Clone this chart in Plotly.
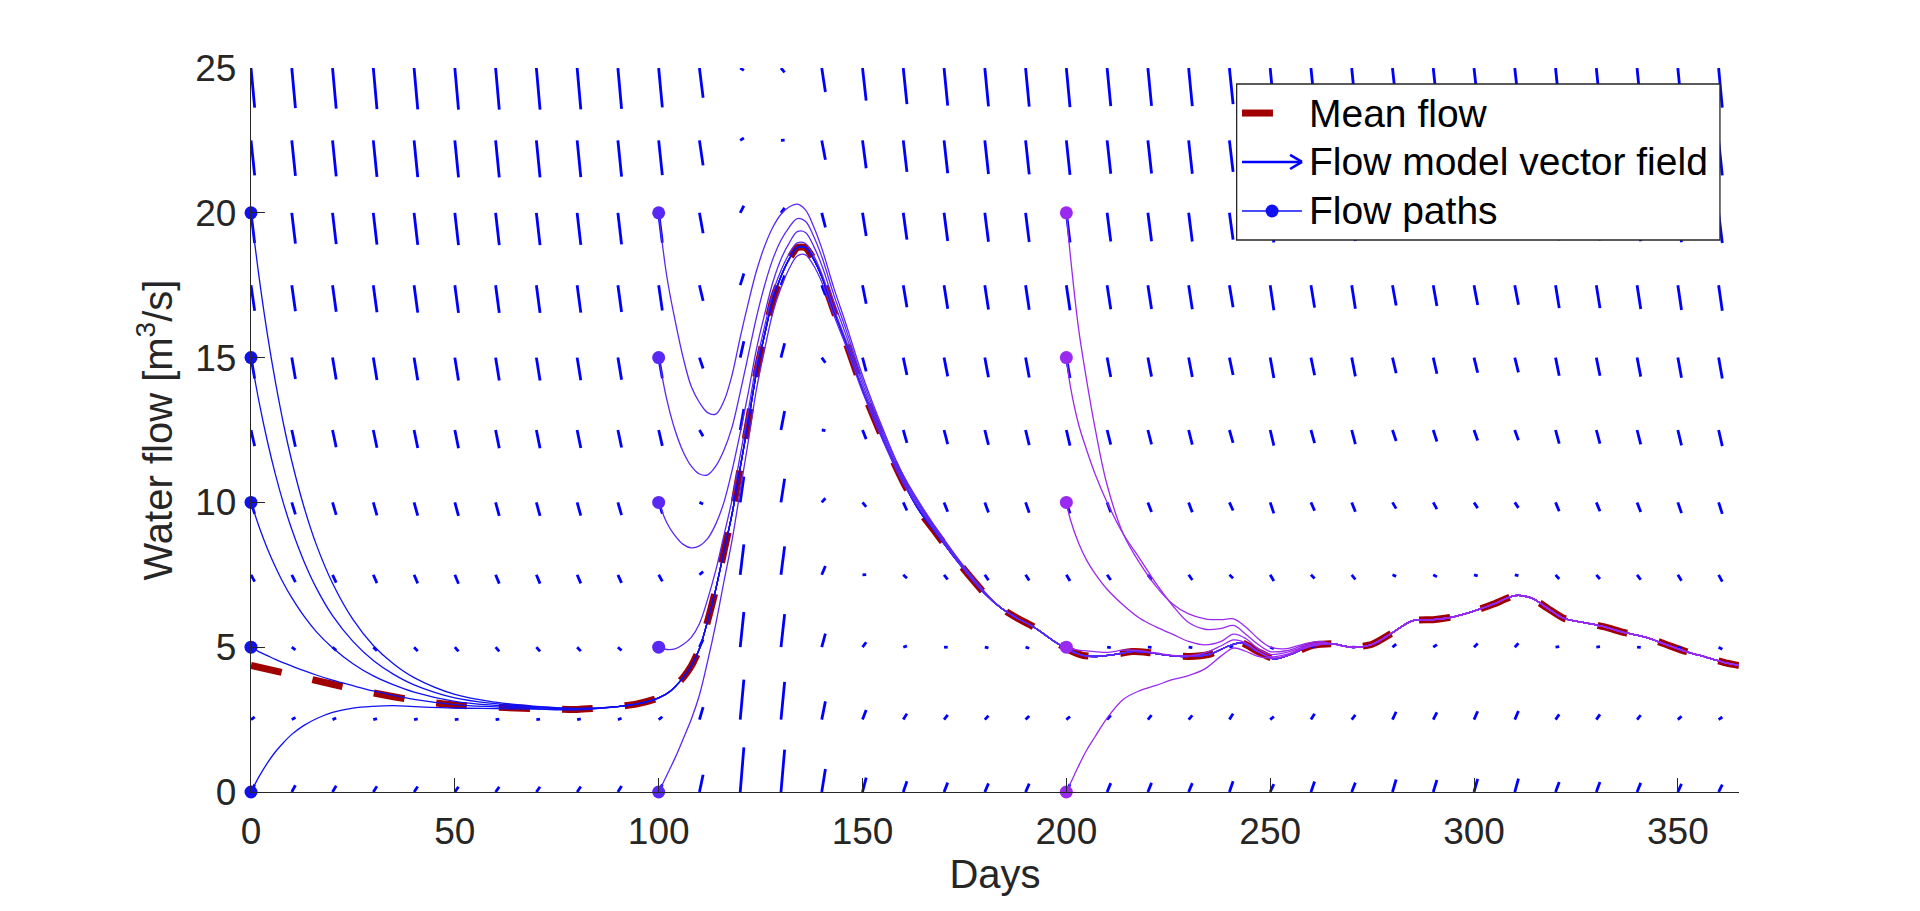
import plotly.graph_objects as go

# mean flow
mean_days = [0, 10, 20, 30, 40, 50, 60, 70, 80, 90, 95, 100, 103, 106, 108, 110, 112, 114, 116, 118,
             120, 122, 124, 126, 128, 130, 132, 134, 136, 138, 140, 143, 146, 150, 155, 160, 164, 168,
             172, 176, 180, 184, 188, 192, 196, 200, 204, 208, 212, 216, 220, 225, 230, 235, 240, 243,
             247, 251, 255, 260, 265, 270, 275, 280, 285, 290, 295, 300, 305, 310, 314, 318, 322, 327,
             332, 337, 342, 347, 352, 357, 362, 365]
mean_flow = [4.37, 4.05, 3.72, 3.42, 3.17, 3.00, 2.93, 2.88, 2.85, 2.95, 3.05, 3.25, 3.5, 3.95, 4.35, 4.95,
             5.9, 7.0, 8.3, 9.6, 11.2, 12.8, 14.5, 15.8, 17.0, 17.8, 18.4, 18.8, 18.8, 18.4, 17.8, 16.6,
             15.5, 13.9, 12.2, 10.7, 9.7, 8.95, 8.2, 7.5, 6.85, 6.35, 6.0, 5.7, 5.3, 4.95, 4.72, 4.68,
             4.75, 4.85, 4.82, 4.72, 4.68, 4.75, 5.05, 5.15, 4.85, 4.6, 4.75, 5.05, 5.12, 5.0, 5.1, 5.5,
             5.92, 5.95, 6.05, 6.25, 6.5, 6.78, 6.7, 6.35, 6.0, 5.85, 5.7, 5.5, 5.35, 5.1, 4.85, 4.65,
             4.45, 4.37]

# vector field: slope dy/dt at each grid point, rows = flow levels, cols = days
field_days = list(range(0, 361, 10))
field_flow = [0, 2.5, 5, 7.5, 10, 12.5, 15, 17.5, 20, 22.5, 25]
field_slope = [
    [0.28, 0.26, 0.24, 0.22, 0.21, 0.20, 0.20, 0.20, 0.21, 0.23, 0.29, 0.66, 1.71, 1.63, 0.88, 0.55, 0.41, 0.36, 0.33, 0.32, 0.30, 0.34, 0.35, 0.34, 0.41, 0.30, 0.40, 0.36, 0.48, 0.46, 0.50, 0.51, 0.38, 0.38, 0.35, 0.31, 0.28],
    [0.10, 0.08, 0.06, 0.04, 0.03, 0.02, 0.02, 0.02, 0.03, 0.05, 0.11, 0.48, 1.53, 1.45, 0.70, 0.37, 0.23, 0.18, 0.15, 0.14, 0.12, 0.16, 0.17, 0.16, 0.23, 0.12, 0.22, 0.18, 0.30, 0.28, 0.32, 0.33, 0.20, 0.20, 0.17, 0.13, 0.10],
    [-0.08, -0.10, -0.12, -0.14, -0.15, -0.16, -0.16, -0.16, -0.15, -0.13, -0.07, 0.30, 1.35, 1.27, 0.52, 0.19, 0.05, 0.00, -0.03, -0.04, -0.06, -0.02, -0.01, -0.02, 0.05, -0.06, 0.04, 0.00, 0.12, 0.10, 0.14, 0.15, 0.02, 0.02, -0.01, -0.05, -0.08],
    [-0.26, -0.28, -0.30, -0.32, -0.33, -0.34, -0.34, -0.34, -0.33, -0.31, -0.25, 0.12, 1.17, 1.09, 0.34, 0.01, -0.13, -0.18, -0.21, -0.22, -0.24, -0.20, -0.19, -0.20, -0.13, -0.24, -0.14, -0.18, -0.06, -0.08, -0.04, -0.03, -0.16, -0.16, -0.19, -0.23, -0.26],
    [-0.44, -0.46, -0.48, -0.50, -0.51, -0.52, -0.52, -0.52, -0.51, -0.49, -0.43, -0.06, 0.99, 0.91, 0.16, -0.17, -0.31, -0.36, -0.39, -0.40, -0.42, -0.38, -0.37, -0.38, -0.31, -0.42, -0.32, -0.36, -0.24, -0.26, -0.22, -0.21, -0.34, -0.34, -0.37, -0.41, -0.44],
    [-0.62, -0.64, -0.66, -0.68, -0.69, -0.70, -0.70, -0.70, -0.69, -0.67, -0.61, -0.24, 0.81, 0.73, -0.02, -0.35, -0.49, -0.54, -0.57, -0.58, -0.60, -0.56, -0.55, -0.56, -0.49, -0.60, -0.50, -0.54, -0.42, -0.44, -0.40, -0.39, -0.52, -0.52, -0.55, -0.59, -0.62],
    [-0.80, -0.82, -0.84, -0.86, -0.87, -0.88, -0.88, -0.88, -0.87, -0.85, -0.79, -0.42, 0.63, 0.55, -0.20, -0.53, -0.67, -0.72, -0.75, -0.76, -0.78, -0.74, -0.73, -0.74, -0.67, -0.78, -0.68, -0.72, -0.60, -0.62, -0.58, -0.57, -0.70, -0.70, -0.73, -0.77, -0.80],
    [-0.98, -1.00, -1.02, -1.04, -1.05, -1.06, -1.06, -1.06, -1.05, -1.03, -0.97, -0.60, 0.45, 0.37, -0.38, -0.71, -0.85, -0.90, -0.93, -0.94, -0.96, -0.92, -0.91, -0.92, -0.85, -0.96, -0.86, -0.90, -0.78, -0.80, -0.76, -0.75, -0.88, -0.88, -0.91, -0.95, -0.98],
    [-1.16, -1.18, -1.20, -1.22, -1.23, -1.24, -1.24, -1.24, -1.23, -1.21, -1.15, -0.78, 0.27, 0.19, -0.56, -0.89, -1.03, -1.08, -1.11, -1.12, -1.14, -1.10, -1.09, -1.10, -1.03, -1.14, -1.04, -1.08, -0.96, -0.98, -0.94, -0.93, -1.06, -1.06, -1.09, -1.13, -1.16],
    [-1.34, -1.36, -1.38, -1.40, -1.41, -1.42, -1.42, -1.42, -1.41, -1.39, -1.33, -0.96, 0.09, 0.01, -0.74, -1.07, -1.21, -1.26, -1.29, -1.30, -1.32, -1.28, -1.27, -1.28, -1.21, -1.32, -1.22, -1.26, -1.14, -1.16, -1.12, -1.11, -1.24, -1.24, -1.27, -1.31, -1.34],
    [-1.52, -1.54, -1.56, -1.58, -1.59, -1.60, -1.60, -1.60, -1.59, -1.57, -1.51, -1.14, -0.09, -0.17, -0.92, -1.25, -1.39, -1.44, -1.47, -1.48, -1.50, -1.46, -1.45, -1.46, -1.39, -1.50, -1.40, -1.44, -1.32, -1.34, -1.30, -1.29, -1.42, -1.42, -1.45, -1.49, -1.52],
]

# flow paths started on day 0, 100 and 200 (until they join the mean)
start_flows = [0, 5, 10, 15, 20]

paths0_days = [0, 2, 4, 6, 8, 10, 13, 16, 20, 25, 30, 35, 40, 50, 60, 70, 80]
paths0_flow = [
    [0.0, 0.54, 1.00, 1.39, 1.71, 1.99, 2.30, 2.53, 2.75, 2.90, 2.96, 2.98, 2.95, 2.90, 2.88, 2.86, 2.84],
    [5.0, 4.84, 4.71, 4.58, 4.46, 4.35, 4.19, 4.04, 3.86, 3.67, 3.49, 3.34, 3.20, 3.02, 2.94, 2.88, 2.85],
    [10.0, 9.15, 8.41, 7.77, 7.20, 6.71, 6.07, 5.54, 4.98, 4.43, 4.01, 3.70, 3.45, 3.13, 2.99, 2.91, 2.86],
    [15.0, 13.45, 12.12, 10.96, 9.95, 9.07, 7.96, 7.05, 6.09, 5.20, 4.54, 4.06, 3.70, 3.25, 3.05, 2.94, 2.88],
    [20.0, 17.76, 15.82, 14.15, 12.69, 11.43, 9.84, 8.55, 7.21, 5.96, 5.06, 4.42, 3.95, 3.37, 3.10, 2.96, 2.89],
]

paths100_days = [100, 102, 104, 106, 108, 110, 112, 114, 116, 118, 120, 122, 124, 126, 128, 130, 132, 134,
                 136, 138, 140, 143, 146, 150, 155, 160, 170, 180]
paths100_flow = [
    [0.0, 0.58, 1.17, 1.83, 2.51, 3.35, 4.51, 5.80, 7.26, 8.69, 10.41, 12.12, 13.91, 15.29, 16.55, 17.41, 18.07, 18.51,
     18.55, 18.18, 17.61, 16.45, 15.38, 13.81, 12.13, 10.65, 8.58, 6.84],
    [5.0, 4.92, 4.94, 5.09, 5.34, 5.81, 6.65, 7.65, 8.86, 10.09, 11.62, 13.17, 14.82, 16.08, 17.24, 18.01, 18.58, 18.96,
     18.94, 18.52, 17.90, 16.68, 15.57, 13.95, 12.24, 10.73, 8.61, 6.86],
    [10.0, 9.3, 8.85, 8.55, 8.43, 8.5, 8.75, 9.25, 10.0, 11.1, 12.4, 13.8, 15.3, 16.5, 17.6, 18.4, 18.95, 19.35,
     19.32, 18.85, 18.19, 16.92, 15.76, 14.09, 12.34, 10.80, 8.65, 6.87],
    [15.0, 13.55, 12.5, 11.75, 11.25, 10.98, 10.95, 11.25, 11.8, 12.6, 13.8, 15.1, 16.4, 17.5, 18.4, 19.05, 19.5, 19.8,
     19.71, 19.19, 18.49, 17.15, 15.95, 14.24, 12.44, 10.87, 8.68, 6.89],
    [20.0, 17.8, 16.3, 15.0, 14.0, 13.45, 13.1, 13.05, 13.5, 14.4, 15.7, 16.9, 18.0, 18.85, 19.5, 19.95, 20.2, 20.3,
     20.1, 19.53, 18.78, 17.39, 16.14, 14.38, 12.54, 10.94, 8.72, 6.91],
]

paths200_days = [200, 201, 203, 205, 207, 210, 214, 218, 222, 226, 230, 234, 238, 241, 244, 247, 250, 254, 258, 262]
paths200_flow = [
    [0.0, 0.3, 0.9, 1.45, 1.9, 2.55, 3.2, 3.5, 3.68, 3.88, 4.02, 4.25, 4.7, 4.97, 4.86, 4.68, 4.62, 4.7, 4.95, 5.08],
    [5.0, 4.95, 4.9, 4.87, 4.85, 4.82, 4.9, 4.88, 4.8, 4.72, 4.7, 4.8, 5.05, 5.25, 5.15, 4.85, 4.67, 4.75, 4.98, 5.1],
    [10.0, 9.4, 8.6, 8.0, 7.55, 7.0, 6.45, 6.0, 5.7, 5.45, 5.2, 5.08, 5.2, 5.45, 5.3, 4.95, 4.75, 4.82, 5.0, 5.12],
    [15.0, 14.0, 12.7, 11.8, 11.0, 10.0, 8.9, 8.06, 7.2, 6.45, 5.85, 5.62, 5.65, 5.75, 5.45, 5.1, 4.85, 4.88, 5.05, 5.15],
    [20.0, 18.5, 16.0, 14.2, 12.6, 10.6, 8.9, 7.9, 7.1, 6.5, 6.15, 5.98, 5.95, 5.98, 5.7, 5.3, 5.0, 4.95, 5.1, 5.2],
]

tick_days = [0, 50, 100, 150, 200, 250, 300, 350]
tick_flow = [0, 5, 10, 15, 20, 25]

font_name = "Liberation Sans, Arial, sans-serif"
axis_font = dict(family=font_name, size=37, color="#262626")
arrow_scale = 0.9

fig = go.Figure()

fig.add_trace(go.Scatter(x=mean_days, y=mean_flow, mode="lines", name="Mean flow",
                         line=dict(color="#A00000", width=7, dash="31px,32px", shape="spline", smoothing=0.6)))

qx, qy = [], []
for i, level in enumerate(field_flow):
    for j, day in enumerate(field_days):
        qx += [day, day + arrow_scale, None]
        qy += [level, level + arrow_scale * field_slope[i][j], None]
fig.add_trace(go.Scatter(x=qx, y=qy, mode="lines", name="Flow model vector field",
                         line=dict(color="#0000FF", width=2.8)))


def follow_mean(days, flow):
    # after a path has joined the mean flow it runs along it
    tail = [(d, f) for d, f in zip(mean_days, mean_flow) if d > days[-1]]
    return list(days) + [d for d, f in tail], list(flow) + [f for d, f in tail]


groups = [(paths0_days, paths0_flow, "#1010F2"),
          (paths100_days, paths100_flow, "#5A28F5"),
          (paths200_days, paths200_flow, "#9A2AF0")]
for days, flows, col in groups:
    for flow in flows:
        px, py = follow_mean(days, flow)
        fig.add_trace(go.Scatter(x=px, y=py, mode="lines", showlegend=False,
                                 line=dict(color=col, width=1.3, shape="spline", smoothing=1.0)))
for days, flows, col in groups:
    fig.add_trace(go.Scatter(x=[days[0]] * len(start_flows), y=start_flows, mode="markers",
                             showlegend=False, cliponaxis=False,
                             marker=dict(color=col, size=13)))

# legend drawn by hand (box, samples, labels)
lg_line = dict(color="#0000FF", width=2.6)
shapes = [
    dict(type="rect", xref="paper", yref="paper", x0=0.6624, x1=0.9872, y0=0.7624, y1=0.9779,
         line=dict(color="#262626", width=1.3), fillcolor="white", layer="above"),
    dict(type="line", xref="paper", yref="paper", x0=0.666, x1=0.6868, y0=0.9378, y1=0.9378,
         line=dict(color="#A00000", width=7), layer="above"),
    dict(type="line", xref="paper", yref="paper", x0=0.666, x1=0.7063, y0=0.8702, y1=0.8702,
         line=lg_line, layer="above"),
    dict(type="line", xref="paper", yref="paper", x0=0.6983, x1=0.7063, y0=0.8799, y1=0.8702,
         line=lg_line, layer="above"),
    dict(type="line", xref="paper", yref="paper", x0=0.6983, x1=0.7063, y0=0.8605, y1=0.8702,
         line=lg_line, layer="above"),
    dict(type="line", xref="paper", yref="paper", x0=0.666, x1=0.7063, y0=0.8025, y1=0.8025,
         line=dict(color="#1010F2", width=1.3), layer="above"),
    dict(type="circle", xref="paper", yref="paper", xsizemode="pixel", ysizemode="pixel",
         xanchor=0.6862, yanchor=0.8025, x0=-6.5, x1=6.5, y0=-6.5, y1=6.5,
         fillcolor="#1010F2", line=dict(width=0), layer="above"),
]
labels = [("Mean flow", 0.9378), ("Flow model vector field", 0.8702), ("Flow paths", 0.8025)]
annotations = [dict(text=t, xref="paper", yref="paper", x=0.7097, y=yy, xanchor="left", yanchor="middle",
                    showarrow=False, font=dict(family=font_name, size=39, color="black"))
               for t, yy in labels]

fig.update_layout(
    width=1920, height=911,
    margin=dict(l=251, r=181, t=68, b=119),
    paper_bgcolor="white", plot_bgcolor="white",
    showlegend=False,
    shapes=shapes, annotations=annotations,
    xaxis=dict(range=[0, 365], tickvals=tick_days, showgrid=False, zeroline=False,
               showline=True, linecolor="#262626", linewidth=1.3,
               ticks="inside", ticklen=14, tickcolor="#262626", tickwidth=1.3,
               tickfont=axis_font, ticklabelstandoff=6,
               title=dict(text="Days", font=dict(axis_font, size=40), standoff=8)),
    yaxis=dict(range=[0, 25], tickvals=tick_flow, showgrid=False, zeroline=False,
               showline=True, linecolor="#262626", linewidth=1.3,
               ticks="inside", ticklen=14, tickcolor="#262626", tickwidth=1.3,
               tickfont=axis_font, ticklabelstandoff=6,
               title=dict(text="Water flow [m<sup>3</sup>/s]", font=dict(axis_font, size=40), standoff=10)),
)

fig.write_html("out.html", config={"displayModeBar": False},
               post_script="document.body.style.margin='0';document.body.style.overflow='hidden';")
